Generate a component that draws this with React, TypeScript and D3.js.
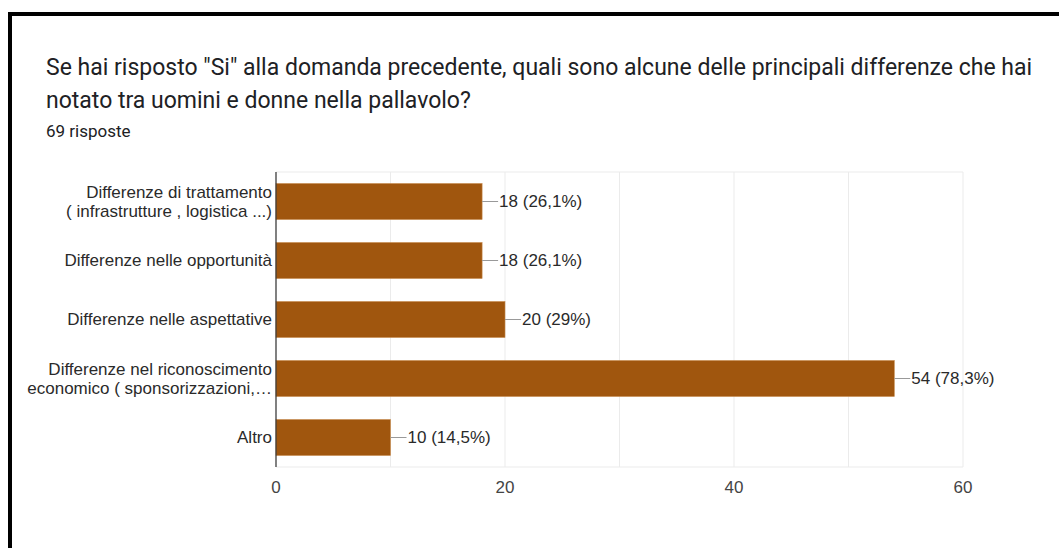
import React from "react";
import * as d3 from "d3";

const categories: string[][] = [
  ["Differenze di trattamento", "( infrastrutture , logistica ...)"],
  ["Differenze nelle opportunità"],
  ["Differenze nelle aspettative"],
  ["Differenze nel riconoscimento", "economico ( sponsorizzazioni,…"],
  ["Altro"],
];
const values: number[] = [18, 18, 20, 54, 10];
const percents: string[] = ["26,1%", "26,1%", "29%", "78,3%", "14,5%"];
const ticks: number[] = [0, 20, 40, 60];
const gridTicks: number[] = [0, 10, 20, 30, 40, 50, 60];
const titleLines: string[] = [
  'Se hai risposto "Si" alla domanda precedente, quali sono alcune delle principali differenze che hai',
  "notato tra uomini e donne nella pallavolo?",
];
const subtitle = "69 risposte";

export default function App() {
  const W = 1059, H = 548;
  const x = d3.scaleLinear().domain([0, 60]).range([276, 963]);
  const y = d3.scaleBand<number>().domain(d3.range(values.length)).range([172, 467]).paddingInner(0.39).paddingOuter(0.195);
  const bw = y.bandwidth();
  const labelFont = "'Liberation Sans', Arial, sans-serif";
  const fs = 17;
  return (
    <svg width={W} height={H} style={{ position: "absolute", left: 0, top: 0, background: "#fff" }}>
      <rect x={0} y={0} width={W} height={H} fill="#fff" />
      <line x1={10} y1={14} x2={W} y2={14} stroke="#000" strokeWidth={4} />
      <line x1={10} y1={12} x2={10} y2={H} stroke="#000" strokeWidth={4} />
      {titleLines.map((t, i) => (
        <text key={i} x={46} y={75 + i * 33} fontFamily="Roboto, sans-serif" fontSize={23} fill="#202124">{t}</text>
      ))}
      <text x={46} y={137} fontFamily="Roboto, sans-serif" fontSize={17} fill="#202124">{subtitle}</text>
      {gridTicks.map((t) => (
        <line key={t} x1={x(t)} x2={x(t)} y1={172} y2={467} stroke="#ebebeb" strokeWidth={1} />
      ))}
      <line x1={276} x2={963} y1={172} y2={172} stroke="#ebebeb" />
      <line x1={276} x2={963} y1={467} y2={467} stroke="#ebebeb" />
      {values.map((v, i) => {
        const by = y(i)!;
        const cy = by + bw / 2;
        return (
          <g key={i}>
            <rect x={x(0)} y={by} width={x(v) - x(0)} height={bw} fill="#a0560e" stroke="#c78a4e" strokeWidth={0.6} />
            <line x1={x(v)} x2={x(v) + 16} y1={cy} y2={cy} stroke="#999" strokeWidth={1} />
            <text x={x(v) + 17} y={cy} dy="0.35em" fontFamily={labelFont} fontSize={fs} fill="#2a2a2a">{`${v} (${percents[i]})`}</text>
            {categories[i].map((line, j) => (
              <text key={j} x={272} y={cy + (j - (categories[i].length - 1) / 2) * 19} dy="0.35em" textAnchor="end" fontFamily={labelFont} fontSize={fs} fill="#2a2a2a">{line}</text>
            ))}
          </g>
        );
      })}
      <line x1={276} x2={276} y1={172} y2={467} stroke="#333" strokeWidth={1.2} />
      {ticks.map((t) => (
        <text key={t} x={x(t)} y={487} dy="0.35em" textAnchor="middle" fontFamily={labelFont} fontSize={fs} fill="#444">{t}</text>
      ))}
    </svg>
  );
}
